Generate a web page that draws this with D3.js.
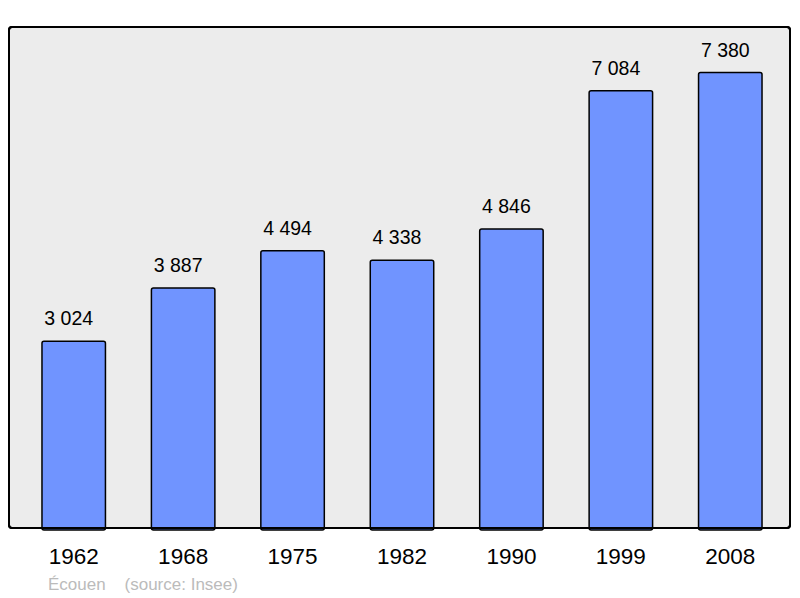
<!DOCTYPE html>
<html><head><meta charset="utf-8">
<script src="https://cdn.jsdelivr.net/npm/d3@7"></script>
<style>body{margin:0;background:#fff}svg{display:block}</style>
</head><body>
<svg id="c" width="800" height="598"></svg>
<script>
const years = ["1962","1968","1975","1982","1990","1999","2008"];
const population = [3024,3887,4494,4338,4846,7084,7380];
const valueLabels = ["3 024","3 887","4 494","4 338","4 846","7 084","7 380"];
const footer = "Écouen\u00a0\u00a0\u00a0\u00a0(source: Insee)";

const svg = d3.select("#c");
const frame = {x0:9, y0:27, x1:790, y1:528};
svg.append("rect").attr("x",frame.x0).attr("y",frame.y0)
  .attr("width",frame.x1-frame.x0).attr("height",frame.y1-frame.y0)
  .attr("rx",3).attr("fill","#ececec").attr("stroke","#000").attr("stroke-width",2);

const x = d3.scaleBand().domain(years).range([19,785]).paddingInner(0.42).paddingOuter(0.21);
const y = d3.scaleLinear().domain([0, d3.max(population)*1.1]).range([frame.y1, frame.y0]);

const g = svg.append("g");
g.selectAll("rect.bar").data(population).join("rect").attr("class","bar")
  .attr("x",(d,i)=>x(years[i])).attr("width",x.bandwidth())
  .attr("y",d=>y(d)).attr("height",d=>frame.y1-y(d)+2)
  .attr("rx",2).attr("fill","#7094ff").attr("stroke","#000").attr("stroke-width",1.5);

g.selectAll("text.val").data(population).join("text").attr("class","val")
  .attr("x",(d,i)=>x(years[i])+x.bandwidth()/2-5).attr("y",d=>y(d)-16)
  .attr("text-anchor","middle").attr("font-family","Liberation Sans, Arial, sans-serif")
  .attr("font-size",19.5).attr("fill","#000").text((d,i)=>valueLabels[i]);

svg.append("rect").attr("x",frame.x0).attr("y",frame.y0)
  .attr("width",frame.x1-frame.x0).attr("height",frame.y1-frame.y0)
  .attr("rx",3).attr("fill","none").attr("stroke","#000").attr("stroke-width",2);

const xAxis = d3.axisBottom(x).tickSize(0).tickPadding(0);
const ax = svg.append("g").attr("transform",`translate(0,${frame.y1})`).call(xAxis);
ax.select(".domain").remove();
ax.selectAll("text").attr("font-family","Liberation Sans, Arial, sans-serif")
  .attr("font-size",22.5).attr("fill","#000").attr("dy",null).attr("y",36);

svg.append("text").attr("x",48).attr("y",590).attr("font-family","Liberation Sans, Arial, sans-serif")
  .attr("font-size",17).attr("fill","#bbbbbb").text(footer);
</script>
</body></html>
